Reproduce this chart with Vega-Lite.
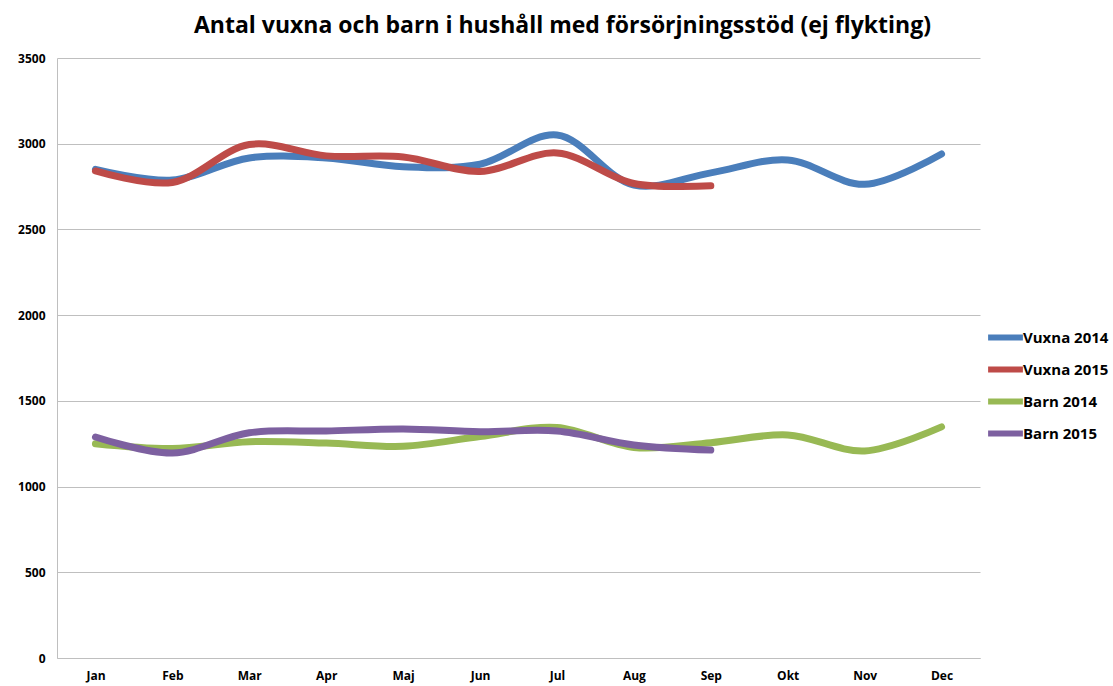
{
  "$schema": "https://vega.github.io/schema/vega-lite/v6.json",
  "width": 923,
  "height": 600,
  "autosize": {"type": "none"},
  "padding": {"left": 57, "top": 58, "right": 133, "bottom": 28},
  "background": "white",
  "title": {
    "text": "Antal vuxna och barn i hushåll med försörjningsstöd (ej flykting)",
    "font": "Open Sans",
    "fontSize": 23,
    "fontWeight": "bold",
    "color": "black",
    "anchor": "middle",
    "dx": 44,
    "offset": 14
  },
  "data": {
    "values": [
      {"m": "Jan", "s": "Vuxna 2014", "v": 2850},
      {"m": "Feb", "s": "Vuxna 2014", "v": 2788},
      {"m": "Mar", "s": "Vuxna 2014", "v": 2917},
      {"m": "Apr", "s": "Vuxna 2014", "v": 2917},
      {"m": "Maj", "s": "Vuxna 2014", "v": 2866},
      {"m": "Jun", "s": "Vuxna 2014", "v": 2880},
      {"m": "Jul", "s": "Vuxna 2014", "v": 3051},
      {"m": "Aug", "s": "Vuxna 2014", "v": 2759},
      {"m": "Sep", "s": "Vuxna 2014", "v": 2830},
      {"m": "Okt", "s": "Vuxna 2014", "v": 2905},
      {"m": "Nov", "s": "Vuxna 2014", "v": 2763},
      {"m": "Dec", "s": "Vuxna 2014", "v": 2940},
      {"m": "Jan", "s": "Vuxna 2015", "v": 2841},
      {"m": "Feb", "s": "Vuxna 2015", "v": 2774},
      {"m": "Mar", "s": "Vuxna 2015", "v": 2995},
      {"m": "Apr", "s": "Vuxna 2015", "v": 2929},
      {"m": "Maj", "s": "Vuxna 2015", "v": 2923},
      {"m": "Jun", "s": "Vuxna 2015", "v": 2838},
      {"m": "Jul", "s": "Vuxna 2015", "v": 2946},
      {"m": "Aug", "s": "Vuxna 2015", "v": 2768},
      {"m": "Sep", "s": "Vuxna 2015", "v": 2755},
      {"m": "Jan", "s": "Barn 2014", "v": 1250},
      {"m": "Feb", "s": "Barn 2014", "v": 1222},
      {"m": "Mar", "s": "Barn 2014", "v": 1262},
      {"m": "Apr", "s": "Barn 2014", "v": 1254},
      {"m": "Maj", "s": "Barn 2014", "v": 1235},
      {"m": "Jun", "s": "Barn 2014", "v": 1292},
      {"m": "Jul", "s": "Barn 2014", "v": 1345},
      {"m": "Aug", "s": "Barn 2014", "v": 1228},
      {"m": "Sep", "s": "Barn 2014", "v": 1256},
      {"m": "Okt", "s": "Barn 2014", "v": 1301},
      {"m": "Nov", "s": "Barn 2014", "v": 1208},
      {"m": "Dec", "s": "Barn 2014", "v": 1348},
      {"m": "Jan", "s": "Barn 2015", "v": 1289},
      {"m": "Feb", "s": "Barn 2015", "v": 1196},
      {"m": "Mar", "s": "Barn 2015", "v": 1314},
      {"m": "Apr", "s": "Barn 2015", "v": 1324},
      {"m": "Maj", "s": "Barn 2015", "v": 1336},
      {"m": "Jun", "s": "Barn 2015", "v": 1320},
      {"m": "Jul", "s": "Barn 2015", "v": 1324},
      {"m": "Aug", "s": "Barn 2015", "v": 1243},
      {"m": "Sep", "s": "Barn 2015", "v": 1213}
    ]
  },
  "mark": {"type": "line", "interpolate": "catmull-rom", "strokeWidth": 7, "strokeCap": "round", "strokeJoin": "round"},
  "encoding": {
    "x": {
      "field": "m",
      "type": "ordinal",
      "sort": ["Jan", "Feb", "Mar", "Apr", "Maj", "Jun", "Jul", "Aug", "Sep", "Okt", "Nov", "Dec"],
      "scale": {"type": "point", "padding": 0.5},
      "axis": {
        "title": null,
        "labelAngle": 0,
        "labelFont": "Open Sans",
        "labelFontSize": 12,
        "labelFontWeight": "bold",
        "labelColor": "black",
        "labelPadding": 12,
        "ticks": false,
        "domainColor": "#bfbfbf",
        "grid": false
      }
    },
    "y": {
      "field": "v",
      "type": "quantitative",
      "scale": {"domain": [0, 3500], "nice": false},
      "axis": {
        "title": null,
        "values": [0, 500, 1000, 1500, 2000, 2500, 3000, 3500],
        "format": "d",
        "labelFont": "Open Sans",
        "labelFontSize": 12,
        "labelFontWeight": "bold",
        "labelColor": "black",
        "labelPadding": 12,
        "ticks": false,
        "domainColor": "#bfbfbf",
        "gridColor": "#bfbfbf",
        "gridWidth": 1
      }
    },
    "color": {
      "field": "s",
      "type": "nominal",
      "sort": ["Vuxna 2014", "Vuxna 2015", "Barn 2014", "Barn 2015"],
      "scale": {
        "domain": ["Vuxna 2014", "Vuxna 2015", "Barn 2014", "Barn 2015"],
        "range": ["#4a7ebb", "#be4b48", "#98b954", "#7d60a0"]
      },
      "legend": {
        "title": null,
        "orient": "none",
        "legendX": 931,
        "legendY": 262,
        "symbolType": "M-1.2,0H1.2",
        "symbolSize": 841,
        "symbolStrokeWidth": 6,
        "labelFont": "Open Sans",
        "labelFontSize": 15,
        "labelFontWeight": "bold",
        "labelColor": "black",
        "labelOffset": 0,
        "rowPadding": 2
      }
    }
  },
  "config": {"view": {"stroke": null}}
}
